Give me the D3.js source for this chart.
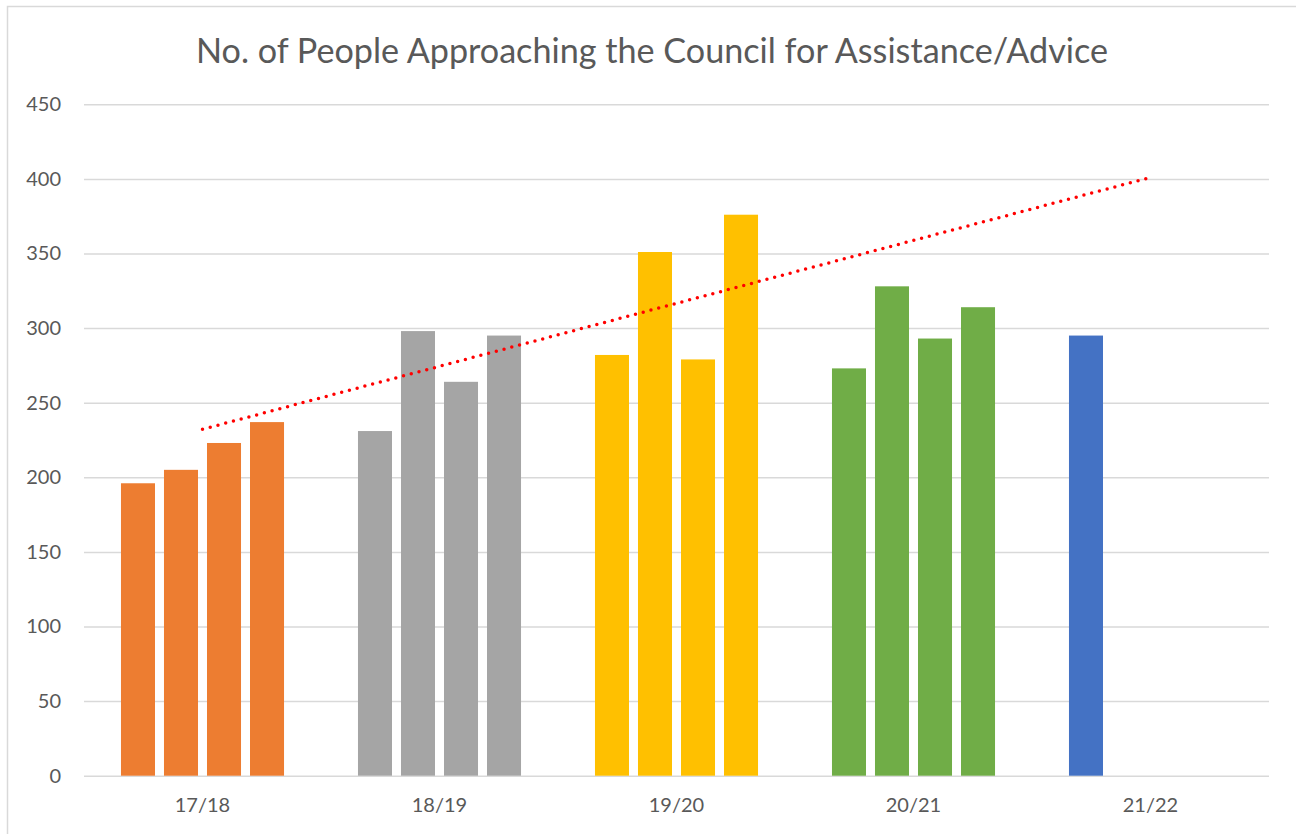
<!DOCTYPE html>
<html>
<head>
<meta charset="utf-8">
<script src="https://cdn.jsdelivr.net/npm/d3@7"></script>
<style>
  body { margin: 0; background: #fff; }
  svg { display: block; }
</style>
</head>
<body>
<div id="chart"></div>
<script>
// data
const years = ["17/18", "18/19", "19/20", "20/21", "21/22"];
const quarters = ["Q1", "Q2", "Q3", "Q4"];
const q1 = [196, 231, 282, 273, 295];
const q2 = [205, 298, 351, 328, null];
const q3 = [223, 264, 279, 293, null];
const q4 = [237, 295, 376, 314, null];
const yearColors = ["#ED7D31", "#A5A5A5", "#FFC000", "#70AD47", "#4472C4"];
const yTickValues = [0, 50, 100, 150, 200, 250, 300, 350, 400, 450];
const title = "No. of People Approaching the Council for Assistance/Advice";

let width = 1296,
    height = 834;
let margin = { left: 84, right: 27, top: 104.3, bottom: 58.3 };
let fontFamily = "Lato, 'Open Sans', sans-serif";

let svg;
let x0, x1, y;

createSVG();
createScales();
drawGrid();
drawBars();
drawTrend();
drawLabels();

function createSVG() {
    svg = d3.select("#chart")
        .append("svg")
        .attr("width", width)
        .attr("height", height);

    svg.append("rect")
        .attr("width", width)
        .attr("height", height)
        .attr("fill", "#fff");

    // chart area border (right/bottom run off the picture)
    svg.append("rect")
        .attr("x", 7.5)
        .attr("y", 6.5)
        .attr("width", width + 20)
        .attr("height", height + 20)
        .attr("fill", "none")
        .attr("stroke", "#d9d9d9")
        .attr("stroke-width", 1.5);
}

function createScales() {
    x0 = d3.scaleBand()
        .domain(years)
        .range([margin.left, width - margin.right])
        .paddingInner(0.312)
        .paddingOuter(0.156);

    x1 = d3.scaleBand()
        .domain(quarters)
        .range([0, x0.bandwidth()])
        .paddingInner(0.209)
        .paddingOuter(0);

    y = d3.scaleLinear()
        .domain([0, 450])
        .range([height - margin.bottom, margin.top]);
}

function drawGrid() {
    let yAxis = d3.axisLeft(y)
        .tickValues(yTickValues)
        .tickSize(-(width - margin.left - margin.right))
        .tickPadding(23);

    let g = svg.append("g")
        .attr("class", "y-axis")
        .attr("transform", "translate(" + margin.left + ",0)")
        .call(yAxis);

    g.select(".domain").remove();
    g.selectAll(".tick line")
        .attr("stroke", "#d9d9d9")
        .attr("stroke-width", 1.5);
    g.selectAll(".tick text")
        .attr("fill", "#595959")
        .style("font-family", fontFamily)
        .style("font-size", "20px");
}

function drawBars() {
    let series = [q1, q2, q3, q4];
    let rows = [];
    years.forEach(function (yr, i) {
        quarters.forEach(function (q, j) {
            if (series[j][i] != null) {
                rows.push({ year: yr, quarter: q, value: series[j][i], color: yearColors[i] });
            }
        });
    });

    svg.append("g").selectAll("rect")
        .data(rows)
        .enter().append("rect")
        .attr("x", function (d) { return x0(d.year) + x1(d.quarter); })
        .attr("y", function (d) { return y(d.value); })
        .attr("width", x1.bandwidth())
        .attr("height", function (d) { return y(0) - y(d.value); })
        .attr("fill", function (d) { return d.color; });
}

function drawTrend() {
    // linear trendline fitted to the Q2 series, extended one period forward
    let pts = [];
    q2.forEach(function (v, i) { if (v != null) pts.push([i, v]); });
    let mx = d3.mean(pts, function (p) { return p[0]; });
    let my = d3.mean(pts, function (p) { return p[1]; });
    let slope = d3.sum(pts, function (p) { return (p[0] - mx) * (p[1] - my); }) /
                d3.sum(pts, function (p) { return (p[0] - mx) * (p[0] - mx); });
    let intercept = my - slope * mx;

    let ends = [0, years.length - 1].map(function (i) {
        return [x0(years[i]) + x0.bandwidth() / 2, y(intercept + slope * i)];
    });

    svg.append("path")
        .attr("d", d3.line()(ends))
        .attr("fill", "none")
        .attr("stroke", "#FF0000")
        .attr("stroke-width", 3.5)
        .attr("stroke-linecap", "round")
        .attr("stroke-dasharray", "0 8");
}

function drawLabels() {
    svg.append("g").selectAll("text")
        .data(years)
        .enter().append("text")
        .attr("x", function (d) { return x0(d) + x0.bandwidth() / 2; })
        .attr("y", 812)
        .attr("text-anchor", "middle")
        .attr("fill", "#595959")
        .style("font-family", fontFamily)
        .style("font-size", "20px")
        .text(function (d) { return d; });

    svg.append("text")
        .attr("x", 652)
        .attr("y", 63)
        .attr("text-anchor", "middle")
        .attr("fill", "#595959")
        .attr("textLength", 912)
        .attr("lengthAdjust", "spacingAndGlyphs")
        .style("font-family", fontFamily)
        .style("font-size", "34px")
        .text(title);
}
</script>
</body>
</html>
